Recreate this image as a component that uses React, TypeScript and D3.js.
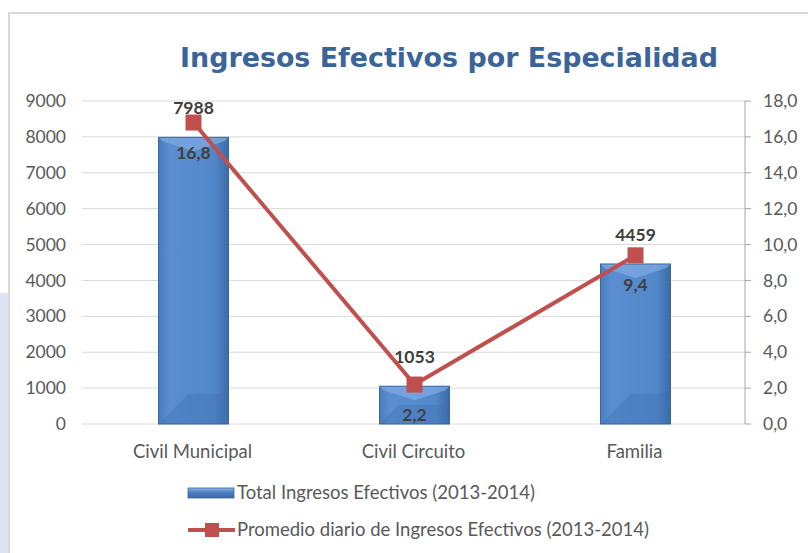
import React from "react";
import * as d3 from "d3";

const categories = ["Civil Municipal", "Civil Circuito", "Familia"];
const totals = [7988, 1053, 4459];
const dailyAvg = [16.8, 2.2, 9.4];
const leftTicks = [0, 1000, 2000, 3000, 4000, 5000, 6000, 7000, 8000, 9000];
const rightTicks = [0, 2, 4, 6, 8, 10, 12, 14, 16, 18];
const titleText = "Ingresos Efectivos por Especialidad";
const legendLabels = [
  "Total Ingresos Efectivos (2013-2014)",
  "Promedio diario de Ingresos Efectivos (2013-2014)",
];

const W = 808;
const H = 553;
const plotLeft = 82;
const plotRight = 745;
const plotTop = 101;
const plotBottom = 424;
const FONT = "Lato, 'Open Sans', 'DejaVu Sans', sans-serif";
const FS = 17.5;
const FS_CAT = 18.5;

export default function App() {
  const x = d3.scaleBand<string>().domain(categories).range([plotLeft, plotRight]).padding(0);
  const yL = d3.scaleLinear().domain([0, 9000]).range([plotBottom, plotTop]);
  const yR = d3.scaleLinear().domain([0, 18]).range([plotBottom, plotTop]);
  const barW = 70;
  const cx = (c: string) => (x(c) as number) + x.bandwidth() / 2 + 1;
  const line = d3
    .line<number>()
    .x((_, i) => cx(categories[i]))
    .y((d) => yR(d));
  const fmtR = (v: number) => v.toFixed(1).replace(".", ",");

  return (
    <svg width={W} height={H} style={{ position: "absolute", left: 0, top: 0 }} fontFamily={FONT}>
      <defs>
        <linearGradient id="barGrad" x1="0" x2="1" y1="0" y2="0">
          <stop offset="0" stopColor="#4a7dbd" />
          <stop offset="0.15" stopColor="#5a8ed1" />
          <stop offset="0.8" stopColor="#5287ca" />
          <stop offset="1" stopColor="#3b6aa6" />
        </linearGradient>
        <linearGradient id="legGrad" x1="0" x2="0" y1="0" y2="1">
          <stop offset="0" stopColor="#8db4e8" />
          <stop offset="0.4" stopColor="#4f81c4" />
          <stop offset="1" stopColor="#3a67a3" />
        </linearGradient>
      </defs>
      <rect x={0} y={0} width={W} height={H} fill="#ffffff" />
      <rect x={0} y={293} width={8} height={H - 293} fill="#dce6f2" />
      <rect x={9} y={13} width={W + 10} height={H + 10} fill="#ffffff" stroke="#d9d9d9" strokeWidth={2} />

      <text
        x={449}
        y={67}
        textAnchor="middle"
        fontFamily="'Comic Sans MS', 'DejaVu Sans', sans-serif"
        fontWeight="bold"
        fontSize={27}
        fill="#3b6498"
        textLength={538}
        lengthAdjust="spacingAndGlyphs"
      >
        {titleText}
      </text>

      {leftTicks.map((t) => (
        <g key={"l" + t}>
          <line x1={plotLeft} x2={plotRight} y1={yL(t)} y2={yL(t)} stroke="#d9d9d9" strokeWidth={1} />
          <text x={66} y={yL(t)} dy="0.35em" textAnchor="end" fontSize={FS} fill="#595959">
            {t}
          </text>
        </g>
      ))}
      <line x1={plotRight} x2={plotRight} y1={plotTop} y2={plotBottom} stroke="#a6a6a6" strokeWidth={1} />
      {rightTicks.map((t) => (
        <g key={"r" + t}>
          <line x1={plotRight} x2={plotRight + 6} y1={yR(t)} y2={yR(t)} stroke="#a6a6a6" strokeWidth={1} />
          <text x={763} y={yR(t)} dy="0.35em" textAnchor="start" fontSize={FS} fill="#595959">
            {fmtR(t)}
          </text>
        </g>
      ))}

      {categories.map((c, i) => {
        const x0 = cx(c) - barW / 2;
        const x1 = cx(c) + barW / 2;
        const top = yL(totals[i]);
        const bot = yL(0);
        const h = bot - top;
        const bev = Math.min(14, h / 2);
        const bb = Math.min(30, h / 2);
        return (
          <g key={c}>
            <rect x={x0} y={top} width={barW} height={h} fill="url(#barGrad)" />
            <polygon
              points={`${x0},${top} ${x1},${top} ${x1 - 4},${top + 4} ${cx(c)},${top + bev} ${x0 + 4},${top + 4}`}
              fill="#7fa9e0"
              opacity={0.75}
            />
            <polygon
              points={`${x0},${bot} ${x0 + bb},${bot - bb} ${x1 - 4},${bot - bb} ${x1},${bot}`}
              fill="#3f6fae"
              opacity={0.35}
            />
            <rect x={x0} y={top} width={barW} height={h} fill="none" stroke="#3a67a3" strokeWidth={1} />
            <text x={cx(c)} y={top - 29} dy="0.35em" textAnchor="middle" fontSize={FS} fontWeight="bold" fill="#404040">
              {totals[i]}
            </text>
            <text x={cx(c) - 1} y={452} dy="0.35em" textAnchor="middle" fontSize={FS_CAT} fill="#595959">
              {c}
            </text>
          </g>
        );
      })}

      <path d={line(dailyAvg) || ""} fill="none" stroke="#c0504d" strokeWidth={4} strokeLinejoin="round" />
      {dailyAvg.map((v, i) => (
        <g key={"m" + i}>
          <rect x={cx(categories[i]) - 8} y={yR(v) - 8} width={16} height={16} fill="#c0504d" />
          <text x={cx(categories[i])} y={yR(v) + 30} dy="0.35em" textAnchor="middle" fontSize={FS} fontWeight="bold" fill="#404040">
            {fmtR(v)}
          </text>
        </g>
      ))}

      <rect x={188} y={488} width={46} height={10} fill="url(#legGrad)" stroke="#3a67a3" strokeWidth={0.8} />
      <text x={237} y={493} dy="0.35em" fontSize={FS_CAT} fill="#595959">
        {legendLabels[0]}
      </text>
      <line x1={188} x2={235} y1={530} y2={530} stroke="#c0504d" strokeWidth={4} />
      <rect x={205} y={523} width={14} height={14} fill="#c0504d" />
      <text x={237} y={530} dy="0.35em" fontSize={FS_CAT} fill="#595959">
        {legendLabels[1]}
      </text>
    </svg>
  );
}
